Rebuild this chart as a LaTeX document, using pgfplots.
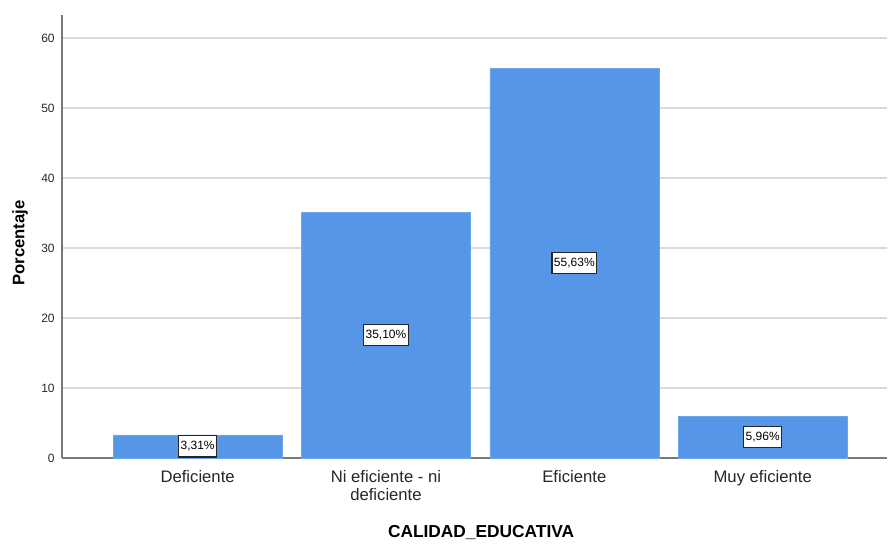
\documentclass[border=0pt]{standalone}
\usepackage{fontspec}
\setmainfont{Liberation Sans}
\usepackage{pgfplots}
\pgfplotsset{compat=1.18}
\usepackage{pgfplotstable}
\definecolor{barblue}{RGB}{85,150,230}
\definecolor{gridgray}{RGB}{218,218,218}
\definecolor{axgray}{RGB}{120,120,120}
\pgfplotstableread{
x y label
0 3.31 {3,31\%}
1 35.10 {35,10\%}
2 55.63 {55,63\%}
3 5.96 {5,96\%}
}\datatable
\begin{document}
\begin{tikzpicture}
\useasboundingbox (-46.5pt,-63.75pt) rectangle (619.5pt,343.5pt);
\begin{axis}[
  at={(0pt,0pt)}, anchor=south west,
  scale only axis, width=618.75pt, height=332.25pt,
  xmin=-0.72, xmax=3.66, ymin=0, ymax=63.3,
  axis x line*=bottom, axis y line*=left,
  axis line style={axgray, line width=0.9pt, -},
  ytick={0,10,...,60},
  ymajorgrids, grid style={gridgray, line width=1.1pt},
  major tick length=0pt,
  xtick=data,
  xticklabels={Deficiente, {Ni eficiente - ni\\deficiente}, Eficiente, Muy eficiente},
  xticklabel style={align=center, anchor=north, inner sep=0pt, yshift=-9pt, font=\fontsize{12.5}{13.5}\selectfont, text=black!85},
  yticklabel style={font=\fontsize{9}{10}\selectfont, xshift=-2pt, text=black!85},
  /pgf/number format/assume math mode=true,
  xlabel={\textbf{CALIDAD\_EDUCATIVA}},
  ylabel={\textbf{Porcentaje}},
  every axis x label/.style={at={(axis description cs:0.508,0)}, yshift=-56.25pt, anchor=center, font=\fontsize{13}{14}\selectfont},
  every axis y label/.style={at={(axis description cs:0,0.485)}, xshift=-31.5pt, rotate=90, anchor=center, font=\fontsize{12.5}{14}\selectfont},
  ybar, bar width=126.75pt, bar shift=0pt,
  point meta=explicit symbolic,
  visualization depends on=y \as \rawy,
  nodes near coords,
  every node near coord/.append style={anchor=center, shift={(axis direction cs:0,-\rawy/2)}, draw=black!85, fill=white, line width=0.8pt, inner xsep=1.5pt, inner ysep=4.2pt, font=\fontsize{9}{10}\selectfont, text=black},
]
\addplot[fill=barblue, draw=barblue!85!white] table[x=x, y=y, meta=label] {\datatable};
\end{axis}
\end{tikzpicture}
\end{document}
